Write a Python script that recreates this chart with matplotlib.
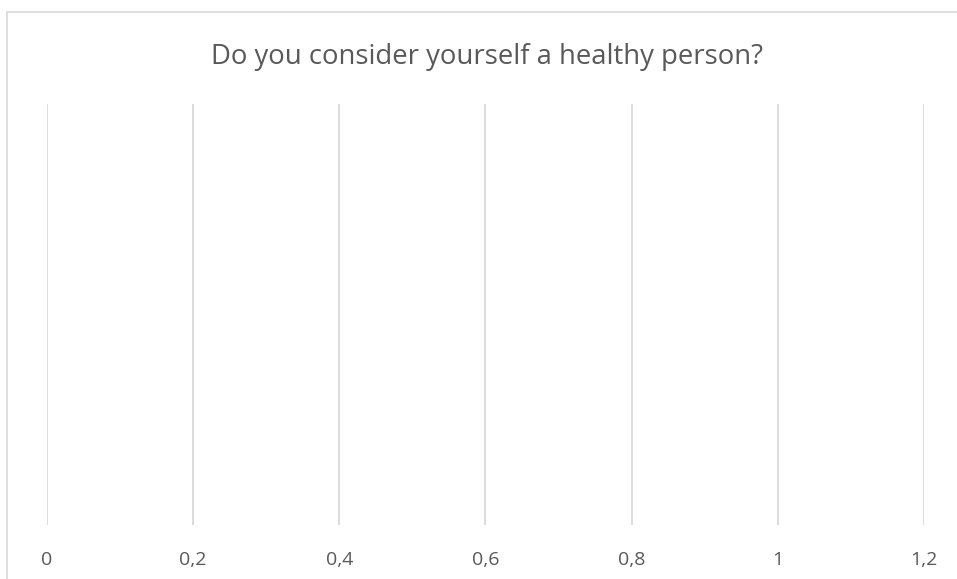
import numpy as np
import matplotlib
matplotlib.use("Agg")
from matplotlib import pyplot as plt
from matplotlib.patches import Rectangle

plt.rcParams['font.family'] = ['Open Sans', 'DejaVu Sans']

# survey answers (no responses recorded yet)
answers = []
counts = []
x_ticks = [0, 0.2, 0.4, 0.6, 0.8, 1.0, 1.2]
x_labels = ['0', '0,2', '0,4', '0,6', '0,8', '1', '1,2']
title = 'Do you consider yourself a healthy person?'

W, H = 957, 579
fig = plt.figure(figsize=(W / 100, H / 100), dpi=100)
ax = fig.add_axes([47 / W, 1 - 525 / H, (924 - 47) / W, (525 - 104) / H])

ax.barh(answers, counts, color='#4472c4')

ax.set_xlim(0, 1.2)
ax.set_xticks(x_ticks)
ax.set_xticklabels(x_labels, color='#595959', fontsize=14)
ax.set_yticks([])
ax.tick_params(axis='x', length=0, pad=18.5)
ax.grid(axis='x', color='#d9d9d9', linewidth=1.3)
ax.set_axisbelow(True)
for s in ax.spines.values():
  s.set_visible(False)

# chart area border, runs off the right/bottom edge
fig.patches.append(Rectangle((7.5 / W, -0.1), 1.1, 1 - 11.5 / H + 0.1,
                             transform=fig.transFigure, fill=False,
                             edgecolor='#d9d9d9', linewidth=1.2))

fig.text(487 / W, 1 - 64 / H, title, ha='center', va='baseline',
         fontsize=19.8, color='#595959')

fig.savefig('out.png', dpi=100)
